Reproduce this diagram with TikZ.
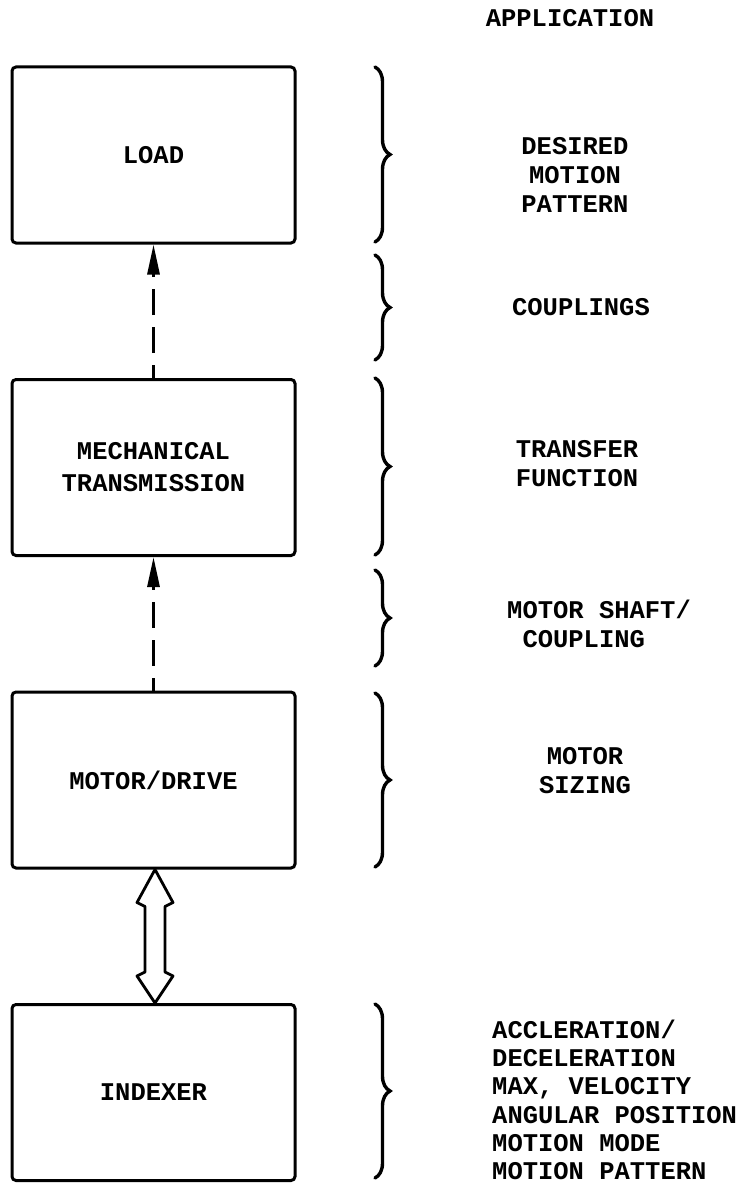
\documentclass[tikz,border=0pt]{standalone}
\usepackage{fontspec}
\setmonofont{Liberation Mono}
\usepackage{tikz}
\usetikzlibrary{arrows.meta, positioning, calc, decorations.pathreplacing}

\tikzset{
  block/.style={draw, line width=3pt, rounded corners=4pt, minimum width=283pt,
    minimum height=176pt, inner sep=0pt, align=center,
    font=\ttfamily\bfseries\fontsize{25.5}{32}\selectfont},
  note/.style={align=center, inner sep=0pt, font=\ttfamily\bfseries\fontsize{25.5}{29}\selectfont},
  flow/.style={line width=3pt, dash pattern=on 26pt off 12pt, dash phase=13pt,
    -{Triangle[length=30pt, width=12pt]}},
  curly/.style={line width=3.4pt, line cap=round, decorate, decoration={brace, amplitude=15pt}},
  hollow/.style={line width=2.8pt, line join=round},
}

\begin{document}
\begin{tikzpicture}[x=1pt, y=-1pt]
    \useasboundingbox (0,0) rectangle (746,1185);

    % blocks
    \node[block] (load) at (153.5,155) {LOAD};
    \node[block] (mech) at (153.5,467.5) {MECHANICAL\\TRANSMISSION};
    \node[block] (motor) at (153.5,780) {MOTOR/DRIVE};
    \node[block] (indexer) at (153.5,1092.5) {INDEXER};

    % links
    \draw[flow] (mech.north) -- (load.south);
    \draw[flow] (motor.north) -- (mech.south);
    \coordinate (up) at ($(motor.south)+(1.5,0)$);
    \coordinate (dn) at ($(indexer.north)+(1.5,0)$);
    \draw[hollow] (up) -- ++(18,33) -- ++(-8,4) -- ($(dn)+(10,-31)$) -- ++(8,4)
        -- (dn) -- ++(-18,-27) -- ++(8,-4) -- ($(up)+(-10,37)$) -- ++(-8,-4) -- cycle;

    % braces
    \draw[curly] (375,67) -- (375,242);
    \draw[curly] (375,255) -- (375,360);
    \draw[curly] (375,378) -- (375,555);
    \draw[curly] (375,570) -- (375,666);
    \draw[curly] (375,693) -- (375,867);
    \draw[curly] (375,1004) -- (375,1178);

    % application notes
    \node[note] (apptitle) at (570,18) {APPLICATION};
    \node[note] (desired) at (575,175) {DESIRED\\MOTION\\PATTERN};
    \node[note] (couplings) at (581,307) {COUPLINGS};
    \node[note, align=left] (transfer) at (577,464) {TRANSFER\\FUNCTION};
    \node[note, align=left, anchor=west] (shaft) at (507,624) {MOTOR SHAFT/\\\phantom{M}COUPLING};
    \node[note] (sizing) at (585,771) {MOTOR\\SIZING};
    \node[note, align=left, anchor=west, font=\ttfamily\bfseries\fontsize{25.5}{28.3}\selectfont] (params) at (492,1100)
        {ACCLERATION/\\DECELERATION\\MAX, VELOCITY\\ANGULAR POSITION\\MOTION MODE\\MOTION PATTERN};
\end{tikzpicture}
\end{document}
